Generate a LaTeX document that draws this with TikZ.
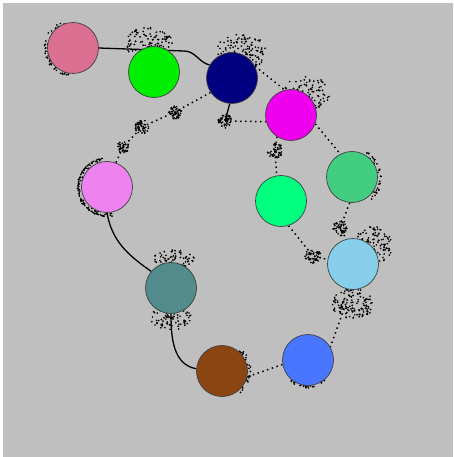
\documentclass[tikz,border=0pt]{standalone}
\usetikzlibrary{backgrounds}
\begin{document}
\begin{tikzpicture}[x=1pt,y=-1pt,
  ball/.style={circle,draw=black!75,line width=0.7pt,minimum size=51pt,inner sep=0pt},
  solidline/.style={line width=1.3pt,black},
  dotline/.style={line width=1.5pt,black,dash pattern=on 1.5pt off 3.5pt},
  dot/.style={black}]
\pgfmathsetseed{4242}
\newcommand\dotcloud[5]{\foreach \i in {1,...,#5}{\pgfmathsetmacro\ang{360*rnd}\pgfmathsetmacro\rr{sqrt(rnd)}\fill[dot] ({#1+#3*\rr*cos(\ang)},{#2+#4*\rr*sin(\ang)}) circle (0.95);}}
\newcommand\dotarc[7]{\foreach \i in {1,...,#7}{\pgfmathsetmacro\ang{#5+(#6-#5)*rnd}\pgfmathsetmacro\rr{#3+(#4-#3)*rnd}\fill[dot] ({#1+\rr*cos(\ang)},{#2+\rr*sin(\ang)}) circle (0.95);}}
% nodes
\node[ball,fill={rgb,255:red,219;green,112;blue,147}] (pink) at (73,48) {};
\node[ball,fill={rgb,255:red,0;green,238;blue,0}] (green) at (154,72) {};
\node[ball,fill={rgb,255:red,0;green,0;blue,128}] (navy) at (232,78) {};
\node[ball,fill={rgb,255:red,238;green,0;blue,238}] (magenta) at (291,115) {};
\node[ball,fill={rgb,255:red,238;green,130;blue,238}] (violet) at (107,187) {};
\node[ball,fill={rgb,255:red,0;green,255;blue,127}] (spring) at (281,201) {};
\node[ball,fill={rgb,255:red,67;green,205;blue,128}] (sea) at (352,177) {};
\node[ball,fill={rgb,255:red,135;green,206;blue,235}] (sky) at (353,264) {};
\node[ball,fill={rgb,255:red,82;green,139;blue,139}] (teal) at (171,288) {};
\node[ball,fill={rgb,255:red,139;green,69;blue,19}] (brown) at (222,371) {};
\node[ball,fill={rgb,255:red,72;green,118;blue,255}] (blue) at (308,360) {};
% coordinates
\coordinate (b1) at (184,51);
\coordinate (k1) at (175,112);
\coordinate (k2) at (142,127);
\coordinate (k3) at (123,147);
\coordinate (k4) at (225,121);
\coordinate (k5) at (275,150);
\coordinate (k6) at (340,228);
\coordinate (k7) at (313,256);
\begin{scope}[on background layer]
% background
\fill[white] (0,0) rectangle (453,457);
\fill[black!25] (3,3) rectangle (453,457);
% dot clouds
\dotarc{73}{48}{25}{29}{100}{250}{50}
\dotcloud{149}{44}{24}{17}{120}
\dotcloud{241}{52}{26}{18}{130}
\dotcloud{306}{93}{24}{17}{110}
\dotcloud{175}{112}{7}{7}{50}
\dotcloud{142}{127}{7}{7}{50}
\dotcloud{123}{147}{6}{6}{40}
\dotcloud{225}{121}{7}{7}{50}
\dotcloud{275}{150}{8}{8}{50}
\dotcloud{340}{228}{7}{8}{50}
\dotcloud{313}{256}{8}{7}{50}
\dotarc{107}{187}{26}{30}{80}{262}{60}
\dotarc{352}{177}{25}{30}{-60}{50}{35}
\dotcloud{372}{246}{20}{20}{120}
\dotcloud{353}{304}{21}{15}{130}
\dotcloud{174}{260}{21}{10}{75}
\dotcloud{171}{318}{21}{12}{85}
\dotarc{222}{371}{25}{29}{-50}{50}{30}
\dotarc{308}{360}{25}{28}{50}{130}{22}
\draw[line width=1.2pt,dash pattern=on 4pt off 1.5pt] (107,187) ++(95:29) arc (95:262:29);
\end{scope}
\begin{scope}[on background layer]
\draw[solidline] (pink.east) -- (b1) to[out=0,in=165] (navy.150);
\draw[dotline] (navy.27) -- (magenta.104);
\draw[dotline] (navy.214) -- (k1) -- (k2) -- (k3) -- (violet.70);
\draw[solidline] (navy.265) -- (k4);
\draw[dotline] (k4) -- (magenta.195);
\draw[dotline] (magenta.237) -- (k5) -- (spring.100);
\draw[dotline] (magenta.-20) -- (sea.117);
\draw[dotline] (sea.265) -- (k6) -- (sky.105);
\draw[dotline] (spring.-73) -- (k7) -- (sky.170);
\draw[dotline] (sky.265) -- (blue.30);
\draw[dotline] (blue.190) -- (brown.-13);
\draw[solidline] (teal.270) to[out=-90,in=170] (brown.175);
\draw[solidline] (violet.270) to[out=-80,in=145] (teal.140);
\end{scope}
\useasboundingbox (0,0) rectangle (453,457);
\end{tikzpicture}
\end{document}
